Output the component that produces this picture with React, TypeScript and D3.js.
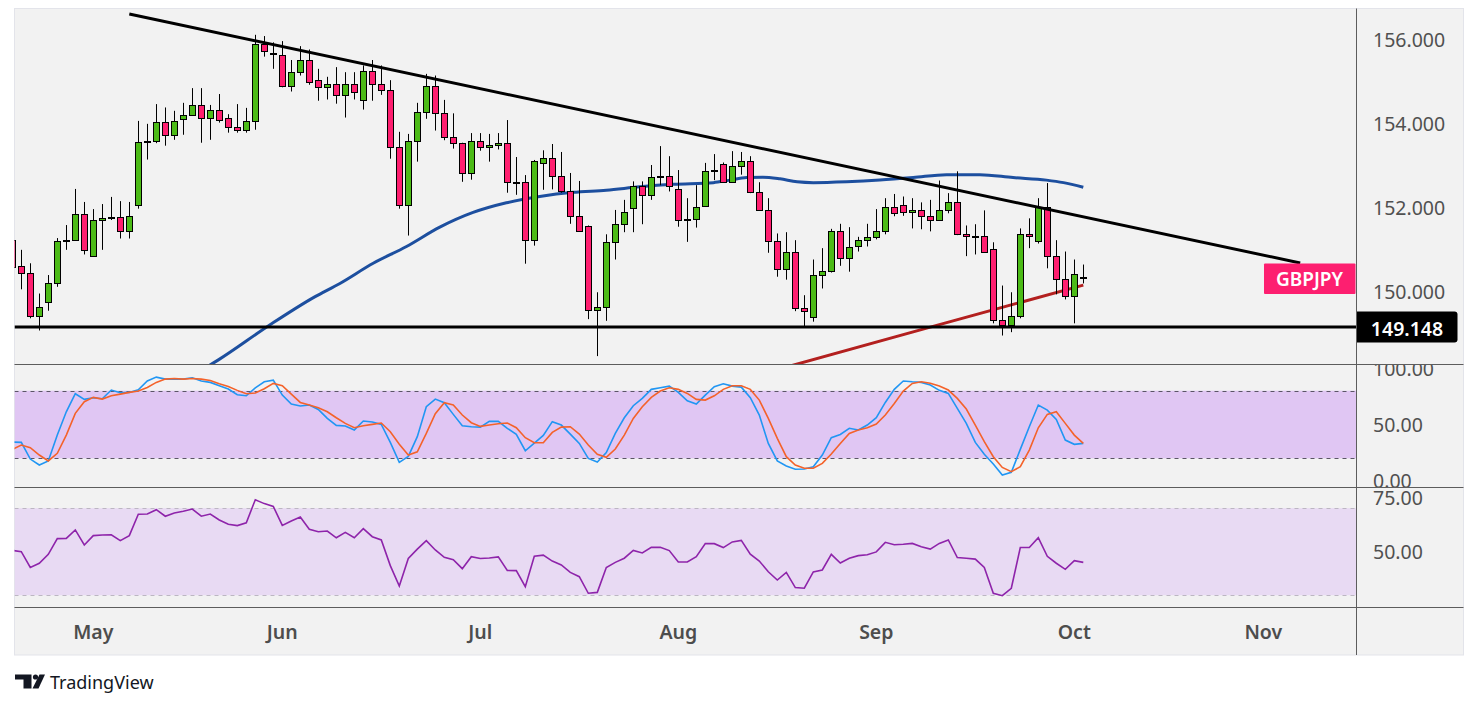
import React from 'react';
import * as d3 from 'd3';

// ---------- DATA ----------
// first candle has index -1 (partly clipped at the left edge), last one index 118
const FIRST_INDEX = -1;
const candleOpen = [151.21, 150.59, 150.44, 149.40, 149.73, 150.18, 151.19, 151.21, 151.83, 150.84, 151.68, 151.74, 151.75, 151.42, 152.04, 153.54, 153.56, 154.02, 153.71, 154.09, 154.18, 154.42, 154.11, 154.30, 154.13, 153.90, 153.83, 154.04, 155.87, 155.67, 155.63, 154.87, 155.21, 155.49, 155.02, 154.85, 154.94, 154.66, 154.94, 154.54, 155.24, 154.92, 154.78, 153.44, 152.04, 153.56, 154.25, 154.87, 154.23, 153.67, 153.52, 152.80, 153.56, 153.42, 153.47, 153.52, 152.60, 152.59, 151.21, 153.04, 153.16, 152.73, 152.37, 151.78, 151.54, 149.54, 149.63, 151.16, 151.59, 151.97, 152.49, 152.28, 152.71, 152.73, 152.42, 151.69, 151.71, 152.02, 152.86, 153.02, 152.59, 152.97, 153.09, 152.35, 151.92, 151.18, 150.52, 150.92, 149.59, 149.37, 150.37, 150.47, 151.42, 150.78, 151.06, 151.21, 151.28, 151.42, 151.99, 152.04, 151.87, 151.94, 151.78, 151.68, 151.94, 152.11, 151.35, 151.31, 151.30, 150.99, 149.30, 149.18, 149.40, 151.35, 151.18, 151.99, 150.83, 150.28, 149.87, 150.33];
const candleHigh = [151.30, 150.98, 150.66, 149.94, 150.38, 151.26, 151.57, 152.43, 152.12, 151.95, 152.07, 152.24, 152.14, 152.12, 154.05, 153.98, 154.45, 154.37, 154.29, 154.48, 154.83, 154.83, 154.43, 154.69, 154.21, 154.45, 154.36, 156.10, 156.07, 155.92, 155.95, 155.50, 155.83, 155.75, 155.29, 155.10, 155.33, 155.21, 155.21, 155.37, 155.50, 155.37, 155.02, 153.79, 153.74, 154.48, 155.17, 155.13, 154.55, 154.23, 153.53, 153.76, 153.76, 153.74, 153.76, 154.07, 153.19, 152.76, 153.12, 153.35, 153.50, 153.31, 152.81, 152.62, 151.56, 149.97, 151.35, 151.93, 152.17, 152.61, 152.61, 153.00, 153.45, 153.21, 152.88, 152.21, 152.52, 153.05, 153.26, 153.06, 153.33, 153.31, 153.21, 152.59, 152.21, 151.37, 151.40, 151.21, 149.90, 150.75, 151.02, 151.48, 151.60, 151.52, 151.29, 151.60, 151.95, 152.21, 152.31, 152.25, 152.21, 152.11, 152.17, 152.63, 152.33, 152.85, 151.56, 151.59, 151.92, 151.16, 150.13, 149.97, 151.49, 151.73, 152.21, 152.57, 151.21, 150.94, 150.75, 150.63];
const candleLow = [150.50, 150.04, 149.35, 149.06, 149.53, 150.10, 150.98, 151.21, 150.87, 150.84, 150.98, 151.69, 151.25, 151.25, 151.96, 153.13, 153.52, 153.46, 153.60, 153.72, 154.18, 153.53, 153.60, 154.01, 153.77, 153.77, 153.77, 153.84, 155.58, 155.29, 154.85, 154.75, 155.13, 154.91, 154.53, 154.56, 154.46, 154.13, 154.56, 154.32, 154.53, 154.67, 153.15, 151.96, 151.32, 153.08, 154.10, 153.82, 153.59, 153.39, 152.60, 152.65, 153.34, 153.08, 153.37, 152.34, 152.29, 150.65, 151.08, 152.41, 152.42, 152.34, 151.60, 151.42, 149.33, 148.45, 149.29, 150.75, 151.40, 151.40, 151.59, 152.17, 152.52, 152.37, 151.53, 151.17, 151.51, 152.02, 152.64, 152.59, 152.59, 152.77, 152.33, 151.92, 150.91, 150.34, 150.27, 149.52, 149.15, 149.27, 150.06, 150.44, 150.60, 150.46, 150.94, 151.06, 151.23, 151.35, 151.78, 151.79, 151.49, 151.47, 151.42, 151.68, 151.85, 151.33, 150.83, 150.87, 150.92, 149.23, 148.94, 149.02, 149.35, 151.02, 151.13, 150.54, 149.92, 149.80, 149.23, 150.18];
const candleClose = [150.57, 150.44, 149.40, 149.61, 150.18, 151.18, 151.21, 151.83, 150.97, 151.68, 151.73, 151.76, 151.42, 151.78, 153.54, 153.56, 154.02, 153.71, 154.04, 154.18, 154.42, 154.11, 154.30, 154.06, 153.90, 153.83, 154.04, 155.87, 155.71, 155.65, 154.87, 155.21, 155.49, 154.97, 154.85, 154.94, 154.66, 154.94, 154.73, 155.24, 154.92, 154.78, 153.44, 152.04, 153.56, 154.25, 154.87, 154.23, 153.67, 153.52, 152.80, 153.56, 153.42, 153.47, 153.52, 152.59, 152.58, 151.21, 153.09, 153.16, 152.73, 152.37, 151.78, 151.42, 149.54, 149.63, 151.16, 151.59, 151.87, 152.49, 152.28, 152.71, 152.73, 152.49, 151.68, 151.71, 152.01, 152.85, 152.88, 152.59, 152.97, 153.09, 152.35, 151.92, 151.18, 150.52, 150.92, 149.59, 149.52, 150.37, 150.47, 151.42, 150.78, 151.04, 151.21, 151.28, 151.42, 151.99, 151.85, 151.87, 151.94, 151.78, 151.68, 151.94, 152.11, 151.35, 151.30, 151.29, 150.92, 149.30, 149.18, 149.40, 151.35, 151.30, 151.99, 150.83, 150.28, 149.87, 150.40, 150.34];

const stochK = [34.4, 34.1, 19.3, 14.0, 17.6, 40.6, 61.3, 77.3, 72.3, 73.8, 72.9, 80.6, 78.2, 78.5, 80.9, 88.6, 92.1, 90.3, 90.3, 90.3, 91.5, 88.6, 87.4, 84.5, 81.5, 76.4, 75.5, 82.6, 87.9, 89.4, 76.1, 68.1, 66.4, 67.3, 63.4, 55.4, 49.2, 48.6, 45.1, 53.1, 52.2, 50.1, 34.1, 16.4, 21.7, 39.2, 65.8, 72.6, 69.3, 59.0, 48.9, 48.0, 47.7, 52.8, 52.8, 46.6, 41.2, 26.7, 33.5, 40.3, 52.5, 49.5, 41.5, 33.2, 19.9, 16.7, 25.0, 42.1, 56.0, 66.7, 73.2, 81.2, 82.6, 84.1, 78.5, 71.1, 68.1, 76.1, 83.5, 86.2, 84.1, 83.2, 73.8, 58.4, 33.2, 17.6, 13.1, 10.2, 10.5, 12.5, 22.9, 38.3, 41.2, 46.6, 45.1, 49.5, 56.0, 69.6, 81.2, 88.6, 87.9, 87.4, 85.0, 80.3, 77.6, 64.3, 51.0, 34.1, 23.5, 14.9, 5.1, 7.5, 27.9, 48.0, 67.3, 62.8, 54.5, 36.2, 32.4, 33.2];
const stochD = [27.9, 31.8, 29.4, 22.9, 17.6, 24.4, 40.6, 59.9, 70.2, 74.1, 72.6, 75.5, 77.0, 78.5, 79.7, 82.9, 87.4, 90.3, 90.9, 90.3, 90.9, 90.3, 89.1, 86.2, 83.8, 80.3, 77.3, 77.9, 81.7, 86.5, 84.5, 77.0, 69.6, 67.3, 64.9, 61.3, 56.0, 51.0, 47.1, 48.9, 50.1, 51.3, 43.6, 32.4, 22.9, 25.8, 42.1, 59.6, 69.3, 67.3, 58.4, 51.6, 48.3, 49.5, 50.7, 51.3, 47.1, 38.3, 33.8, 33.8, 43.0, 47.7, 48.0, 41.5, 31.8, 23.5, 20.9, 28.2, 40.6, 55.4, 65.8, 74.1, 79.7, 82.6, 81.2, 77.6, 72.3, 71.7, 75.5, 81.2, 84.4, 84.4, 81.2, 71.7, 55.4, 37.7, 21.4, 14.0, 11.1, 11.1, 15.5, 23.8, 33.2, 42.1, 45.1, 47.1, 50.4, 58.4, 68.7, 79.7, 86.5, 87.9, 86.7, 84.1, 80.6, 73.2, 63.7, 49.5, 34.7, 21.4, 11.9, 8.1, 12.5, 27.3, 47.1, 59.0, 61.3, 51.0, 40.6, 33.2];
const rsiValues = [50.6, 50.0, 42.8, 44.7, 48.8, 56.0, 56.1, 60.0, 53.1, 57.4, 57.7, 57.8, 55.1, 57.4, 67.2, 67.3, 69.3, 66.3, 67.8, 68.6, 69.6, 66.3, 67.3, 64.6, 62.6, 62.0, 63.3, 73.9, 72.1, 70.8, 62.1, 64.1, 65.9, 60.3, 59.2, 59.5, 56.4, 58.9, 56.4, 60.6, 56.9, 55.4, 43.6, 34.2, 46.9, 51.2, 55.1, 50.8, 47.4, 46.3, 42.2, 47.7, 46.9, 47.1, 47.6, 41.4, 41.3, 33.9, 47.9, 48.4, 45.7, 43.9, 40.5, 38.5, 30.9, 31.3, 42.7, 45.1, 47.0, 50.6, 49.4, 52.0, 52.0, 50.5, 45.3, 45.3, 47.7, 53.7, 53.7, 51.9, 54.5, 55.2, 48.9, 45.7, 40.8, 37.0, 40.5, 33.5, 33.2, 40.7, 41.6, 48.8, 44.8, 47.0, 48.2, 48.6, 49.9, 54.3, 53.2, 53.4, 53.8, 52.3, 51.2, 53.8, 55.4, 47.3, 47.0, 46.6, 42.8, 30.9, 29.8, 33.2, 51.9, 51.9, 56.4, 47.9, 44.7, 41.9, 45.9, 45.1];

const blueMaIndex = [19.9, 21.9, 27.6, 32.6, 35.4, 39.1, 42.8, 46.5, 50.2, 53.9, 57.6, 61.3, 65.0, 68.7, 72.4, 76.9, 78.7, 80.6, 82.4, 84.3, 86.2, 88.0, 91.7, 95.4, 99.1, 102.8, 106.5, 110.2, 113.9, 115.8, 118.0];
const blueMaValue = [148.10, 148.36, 149.19, 149.86, 150.18, 150.66, 151.06, 151.52, 151.87, 152.10, 152.25, 152.35, 152.40, 152.48, 152.54, 152.58, 152.64, 152.70, 152.71, 152.67, 152.60, 152.58, 152.60, 152.64, 152.70, 152.77, 152.77, 152.70, 152.64, 152.58, 152.47];
const redMaIndex = [84, 101, 118];
const redMaValue = [148.13, 149.14, 150.14];

const trendIndex = [12, 142.1];
const trendValue = [156.595, 150.667];
const supportLevel = 149.148;

const priceTicks = [156, 154, 152, 150];
const stochTicks = [100, 50, 0];
const stochBand = [20, 80];
const rsiTicks = [75, 50];
const rsiBand = [30, 70];
const monthIndex = [8, 29, 51, 73, 95, 117, 138];
const monthLabels = ['May', 'Jun', 'Jul', 'Aug', 'Sep', 'Oct', 'Nov'];
const symbolName = 'GBPJPY';

// ---------- LAYOUT ----------
const W = 1479, H = 708;
const LEFT = 14.5, SEP = 1356.5, RIGHT = 1463.5;
const TOP = 8.5, MAIN_B = 364.5, STOCH_B = 487.5, RSI_B = 607.5, BOTTOM = 655;
const FONT = '"Noto Sans", "Open Sans", sans-serif';
const GREEN = '#4cbb17', PINK = '#ff1f70';

export default function App() {
  const x = d3.scaleLinear().domain([0, 117]).range([21.3, 1074.3]);
  const y = d3.scaleLinear().domain([150, 156]).range([291, 39]);
  const yS = d3.scaleLinear().domain([0, 100]).range([480.8, 368.2]);
  const yR = d3.scaleLinear().domain([50, 75]).range([551.7, 497.3]);

  const idxs = candleOpen.map((_, i) => i + FIRST_INDEX);

  const lineXY = d3.line<[number, number]>().x(d => d[0]).y(d => d[1]);
  const smooth = d3.line<[number, number]>().x(d => d[0]).y(d => d[1]).curve(d3.curveMonotoneX);

  const blue = smooth(blueMaIndex.map((v, i) => [x(v), y(blueMaValue[i])]));
  const red = smooth(redMaIndex.map((v, i) => [x(v), y(redMaValue[i])]));
  const trend = lineXY(trendIndex.map((v, i) => [x(v), y(trendValue[i])]));
  const kPath = lineXY(stochK.map((v, i) => [x(idxs[i]), yS(v)]));
  const dPath = lineXY(stochD.map((v, i) => [x(idxs[i]), yS(v)]));
  const rsiPath = lineXY(rsiValues.map((v, i) => [x(idxs[i]), yR(v)]));

  const supY = Math.round(y(supportLevel));

  return (
    <svg width={W} height={H} style={{ position: 'absolute', left: 0, top: 0, background: '#fff' }}
      fontFamily={FONT}>
      <defs>
        <clipPath id="cMain"><rect x={LEFT} y={TOP} width={SEP - LEFT} height={MAIN_B - TOP} /></clipPath>
        <clipPath id="cStoch"><rect x={LEFT} y={MAIN_B} width={SEP - LEFT} height={STOCH_B - MAIN_B} /></clipPath>
        <clipPath id="cRsi"><rect x={LEFT} y={STOCH_B} width={SEP - LEFT} height={RSI_B - STOCH_B} /></clipPath>
        <clipPath id="aStoch"><rect x={SEP} y={MAIN_B + 0.5} width={RIGHT - SEP} height={STOCH_B - MAIN_B - 1} /></clipPath>
        <clipPath id="aRsi"><rect x={SEP} y={STOCH_B + 0.5} width={RIGHT - SEP} height={RSI_B - STOCH_B - 1} /></clipPath>
      </defs>
      {/* background */}
      <rect x={LEFT} y={TOP} width={RIGHT - LEFT} height={BOTTOM - TOP} fill="#f2f2f2" stroke="#e3e4ea" strokeWidth={1} />

      {/* ---- main pane ---- */}
      <g clipPath="url(#cMain)">
        <path d={red ?? ''} fill="none" stroke="#b3201f" strokeWidth={3} />
        <path d={blue ?? ''} fill="none" stroke="#1d4f9f" strokeWidth={3} />
        {idxs.map((k, i) => {
          const cx = Math.round(x(k)) + 0.5;
          const o = candleOpen[i], c = candleClose[i];
          const top = Math.round(y(Math.max(o, c))) + 0.5;
          const bot = Math.max(Math.round(y(Math.min(o, c))) + 0.5, top + 1);
          return (
            <g key={k}>
              <line x1={cx} x2={cx} y1={y(candleHigh[i])} y2={y(candleLow[i])} stroke="#000" strokeWidth={1} />
              <rect x={cx - 3} y={top} width={6} height={bot - top} fill={c >= o ? GREEN : PINK} stroke="#000" strokeWidth={1} />
            </g>
          );
        })}
        <path d={trend ?? ''} fill="none" stroke="#000" strokeWidth={3} />
        <line x1={LEFT} x2={SEP} y1={supY} y2={supY} stroke="#000" strokeWidth={3} />
      </g>

      {/* ---- stochastic pane ---- */}
      <g clipPath="url(#cStoch)">
        <rect x={LEFT} y={yS(stochBand[1])} width={SEP - LEFT} height={yS(stochBand[0]) - yS(stochBand[1])} fill="#e0c6f3" />
        {stochBand.map(v => (
          <line key={v} x1={LEFT} x2={SEP} y1={Math.round(yS(v)) + 0.5} y2={Math.round(yS(v)) + 0.5} stroke="#5b5566" strokeDasharray="4 4" strokeWidth={1} />
        ))}
        <path d={kPath ?? ''} fill="none" stroke="#2196f3" strokeWidth={1.6} />
        <path d={dPath ?? ''} fill="none" stroke="#f4622a" strokeWidth={1.6} />
      </g>

      {/* ---- RSI pane ---- */}
      <g clipPath="url(#cRsi)">
        <rect x={LEFT} y={yR(rsiBand[1])} width={SEP - LEFT} height={yR(rsiBand[0]) - yR(rsiBand[1])} fill="#e8daf3" />
        {rsiBand.map(v => (
          <line key={v} x1={LEFT} x2={SEP} y1={Math.round(yR(v)) + 0.5} y2={Math.round(yR(v)) + 0.5} stroke="#bcb6c2" strokeDasharray="4 4" strokeWidth={1} />
        ))}
        <path d={rsiPath ?? ''} fill="none" stroke="#8e24aa" strokeWidth={1.6} />
      </g>

      {/* ---- separators ---- */}
      {[MAIN_B, STOCH_B, RSI_B].map(v => (
        <line key={v} x1={LEFT} x2={RIGHT} y1={v} y2={v} stroke="#5d5d5d" strokeWidth={1} />
      ))}
      <line x1={SEP} x2={SEP} y1={TOP} y2={BOTTOM} stroke="#5d5d5d" strokeWidth={1} />

      {/* ---- axis labels ---- */}
      <g fill="#505050" fontSize={19.5}>
        {priceTicks.map(v => (
          <text key={v} x={1373} y={y(v)} dominantBaseline="central">{v.toFixed(3)}</text>
        ))}
        <g clipPath="url(#aStoch)">
          {stochTicks.map(v => (
            <text key={v} x={1373} y={yS(v)} dominantBaseline="central">{v.toFixed(2)}</text>
          ))}
        </g>
        <g clipPath="url(#aRsi)">
          {rsiTicks.map(v => (
            <text key={v} x={1373} y={yR(v)} dominantBaseline="central">{v.toFixed(2)}</text>
          ))}
        </g>
        {monthIndex.map((m, i) => (
          <text key={m} x={x(m)} y={631.5} textAnchor="middle" dominantBaseline="central" fontWeight={600} fill="#4d4d4d">{monthLabels[i]}</text>
        ))}
      </g>

      {/* ---- labels ---- */}
      <rect x={1264} y={263.5} width={91.5} height={30.5} fill="#fd1f70" rx={1} />
      <text x={1309.5} y={279} textAnchor="middle" dominantBaseline="central" fill="#fff" fontSize={19} fontWeight={600}>{symbolName}</text>
      <path d={`M${SEP + 0.5},${supY - 15.5} H1454.5 a3,3 0 0 1 3,3 V${supY + 12.5} a3,3 0 0 1 -3,3 H${SEP + 0.5} Z`} fill="#000" />
      <text x={1407} y={supY + 1} textAnchor="middle" dominantBaseline="central" fill="#fff" fontSize={19.5} fontWeight={600}>{supportLevel.toFixed(3)}</text>

      {/* ---- TradingView logo ---- */}
      <g fill="#131722">
        <path d="M15 674.5 H31.5 V688.5 H23.5 V679.5 H15 Z" />
        <circle cx={35.5} cy={677} r={2.6} />
        <path d="M39.5 674.5 H45 L38.5 688.5 H32.5 Z" />
        <text x={50} y={688.5} fontSize={18} fontWeight={400}>TradingView</text>
      </g>
    </svg>
  );
}
